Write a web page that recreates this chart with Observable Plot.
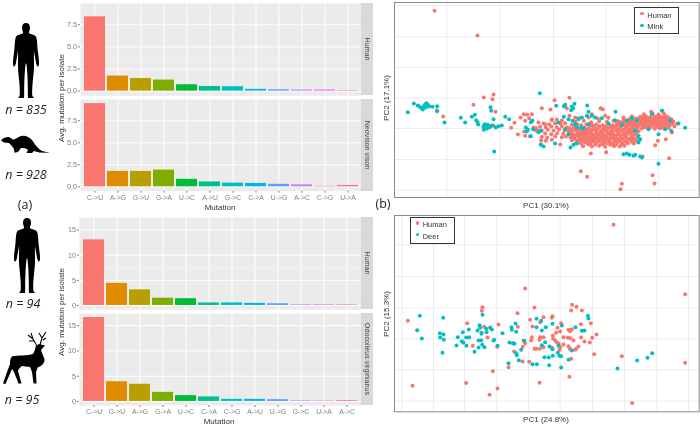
<!DOCTYPE html>
<html><head><meta charset="utf-8">
<script src="https://cdn.jsdelivr.net/npm/d3@7"></script>
<script src="https://cdn.jsdelivr.net/npm/@observablehq/plot@0.6"></script>
<style>
html,body{margin:0;padding:0;background:#fff}
#c{position:relative;width:700px;height:426px;overflow:hidden;filter:blur(.4px);font-family:"Liberation Sans",sans-serif}
#c svg{position:absolute;overflow:visible}
.t{position:absolute;white-space:nowrap;transform:translate(-50%,-50%)}
.n{font:italic 12.5px "Open Sans",sans-serif;color:#222}
.p{font:12.5px "Open Sans",sans-serif;color:#222}
.ax{font-size:8px;color:#333}
.strip{position:absolute;background:#d9d9d9}
.strip span{position:absolute;left:50%;top:50%;transform:translate(-50%,-50%) rotate(90deg);white-space:nowrap;font-size:7.2px;color:#444}
.leg{position:absolute;width:43px;height:25px;background:#fff;border:1.2px solid #333;font-size:7.5px;color:#333;box-sizing:content-box}
.leg div{position:absolute;left:12px}
.leg i{position:absolute;left:5px;width:3.4px;height:3.4px;border-radius:50%}
</style></head><body><div id="c"></div>
<script>
const hue12 = ["#F8766D","#DE8C00","#B79F00","#7CAE00","#00BA38","#00C08B","#00BFC4","#00B4F0","#619CFF","#C77CFF","#F564E3","#FF64B0"];
const mutationsMink = ["C->U","A->G","G->U","G->A","U->C","A->U","G->C","C->A","U->G","A->C","C->G","U->A"];
const humanMink = [8.4,1.7,1.42,1.25,0.72,0.52,0.5,0.2,0.15,0.12,0.12,0.05];
const neovison = [9.45,1.75,1.75,1.9,0.85,0.55,0.42,0.38,0.28,0.22,0.05,0.15];
const mutationsDeer = ["C->U","G->U","A->G","G->A","U->C","C->A","C->G","A->U","U->G","G->C","U->A","A->C"];
const humanDeer = [13.05,4.4,3.1,1.45,1.35,0.5,0.5,0.42,0.35,0.12,0.12,0.1];
const odocoileus = [16.6,3.9,3.4,1.8,1.15,0.9,0.42,0.42,0.35,0.12,0.08,0.15];

// PCA scores, in arbitrary picture units
const pcMinkHumanSparse = [[178,30],[307,104],[326,290],[355,281],[352,295],[295,312],[361,333],[185,329],[204,347],[355,375],[408,381],[418,366],[436,350],[446,340],[456,342],[470,340],[462,352],[450,360],[428,401],[447,392],[450,405],[464,406],[475,380],[483,382],[487,390],[500,322],[538,298],[526,326],[583,291],[676,322],[683,325],[617,511],[636,528],[740,549],[736,565],[832,523],[838,548],[882,472],[802,467],[693,454],[647,458],[840,433],[848,420],[872,415],[890,395],[530,355],[575,322],[583,345],[600,350],[650,340],[690,345],[745,350],[510,370],[490,365]];
const pcMinkHumanCore = [
[600,362],[626,360],[648,364],[672,361],[695,363],[715,360],[742,364],[760,361],[782,363],[610,352],[640,350],[668,353],[700,351],
[590,372],[606,370],[618,373],[634,371],[652,374],[664,371],[682,373],[700,370],[712,373],[730,371],[748,374],[768,371],[790,373],
[582,382],[596,380],[610,383],[628,381],[640,384],[656,381],[668,383],[686,380],[698,383],[716,381],[732,384],[752,381],[770,383],[786,381],
[580,391],[592,393],[604,390],[622,392],[636,390],[646,393],[660,390],[676,392],[690,390],[706,393],[722,390],[738,392],[756,390],[772,393],[790,391],
[584,400],[600,402],[614,399],[626,401],[642,399],[654,402],[670,400],[684,401],[700,399],[714,402],[728,400],[744,401],[760,399],[778,401],
[586,409],[596,411],[610,408],[624,410],[638,408],[652,411],[664,409],[680,410],[694,408],[708,411],[722,409],[736,410],[750,408],[768,411],[786,409],
[590,418],[606,420],[620,417],[634,419],[648,417],[660,420],[676,418],[690,419],[702,417],[718,420],[730,418],[748,419],[764,417],[782,420],[792,418],
[602,427],[618,429],[632,426],[646,428],[662,426],[680,429],[696,427],[712,428],[726,426],[742,429],[758,427],[776,428],
[624,436],[650,437],[672,435],[690,438],[716,436],[734,437],[748,435],
[828,333],[862,330],[806,340],[832,338],[850,341],[866,339],
[770,347],[796,348],[812,346],[826,349],[840,347],[856,348],[872,346],
[745,354],[762,355],[780,353],[800,356],[815,354],[830,355],[844,353],[858,356],[876,354],[888,355],
[730,361],[748,362],[766,360],[784,363],[798,361],[810,362],[824,360],[838,363],[850,361],[864,362],[880,360],[894,362],
[725,368],[742,369],[760,367],[776,370],[792,368],[808,369],[820,367],[834,370],[846,368],[860,369],[874,367],[892,369],[906,368],
[735,375],[752,376],[770,374],[788,377],[804,375],[816,376],[830,374],[842,377],[856,375],[870,376],[884,374],[898,376],
[775,382],[800,383],[820,381],[838,384],[855,382],[868,383],[880,381],
[530,358],[545,356],[560,359],[505,368],[522,370],[540,367],[556,369],[570,367],
[495,378],[512,380],[528,377],[545,379],[560,377],[575,380],
[482,388],[500,390],[518,387],[535,389],[552,387],[568,390],
[510,398],[528,400],[546,397],[564,399],[500,408],[516,410],[540,407],[560,409],[572,407],
[498,418],[512,420],[530,417],[497,430],[555,431],
[644,376],[658,378],[673,377],[691,376],[706,378],[722,376],[738,378],[758,376],[777,378],
[588,387],[601,386],[616,387],[631,386],[650,387],[665,386],[681,387],[694,386],[710,387],[727,386],[745,387],[763,386],[780,387],
[590,396],[608,395],[620,396],[632,395],[648,396],[664,395],[680,396],[696,395],[712,396],[730,395],[750,396],[766,395],[784,396],
[591,405],[606,404],[620,405],[633,404],[646,405],[660,404],[676,405],[690,404],[707,405],[720,404],[736,405],[752,404],[770,405],
[598,414],[614,413],[630,414],[644,413],[657,414],[670,413],[686,414],[698,413],[714,414],[726,413],[742,414],[758,413],[775,414],
[612,423],[627,422],[640,423],[654,422],[670,423],[686,423],[704,422],[722,423],[736,422],[752,423],[770,423],
[640,431],[660,432],[684,431],[705,432],[722,432],[740,431],
[790,352],[805,351],[820,351],[836,352],[850,351],[866,351],[880,350],
[755,358],[775,358],[792,358],[806,358],[818,357],[832,358],[845,357],[870,358],
[738,365],[755,365],[772,365],[790,365],[803,365],[816,364],[830,365],[842,365],[856,365],[870,365],[886,365],
[745,372],[762,372],[780,372],[797,372],[812,372],[825,372],[838,372],[852,372],[866,372],[880,371],
[810,379],[825,379],[846,379],[860,379]];
const pcMinkHuman = pcMinkHumanSparse.concat(pcMinkHumanCore);
const pcMink = [[98,334],[116,308],[128,314],[134,318],[140,322],[143,326],[147,316],[150,310],[154,307],[158,312],[162,316],[152,320],[172,318],[186,316],[186,331],[208,365],
[257,351],[270,365],[290,348],[299,342],[303,358],[307,364],[309,371],[346,319],[348,330],[355,355],[357,452],[325,378],[327,372],[330,370],[333,376],[338,372],[341,380],[326,387],[335,383],[345,378],[350,374],[362,380],[370,376],[380,374],[390,348],[402,355],
[494,277],[543,315],[566,316],[570,312],[590,317],[598,309],[594,322],[588,328],[636,314],[640,333],[721,333],
[452,380],[458,386],[467,364],[472,360],[474,385],[467,406],[455,392],[490,394],[497,390],[505,437],[540,428],[497,432],
[566,348],[580,355],[592,360],[610,355],[600,370],[618,380],[625,383],[640,370],[660,350],[680,352],[700,368],[720,358],[740,372],[755,360],[770,352],[785,360],[790,405],[795,415],[790,425],[780,390],[745,460],[755,458],[763,462],[775,465],[780,462],[795,467],[800,470],[850,489],[930,381],[888,390],[870,385],[850,400],[820,385],[910,368],[586,440],[595,432],[605,428],[580,400],[570,385],[550,365],[635,345],[650,345],[830,340],[860,330],[885,360],[620,350],[605,380]];
const pcDeerHuman = [[715,43],[930,251],[930,457],[450,234],[98,331],[112,526],[771,578],[273,518],[343,553],[367,534],[353,482],[400,470],[493,517],[583,499],[740,437],[657,431],[664,372],[651,382],[644,396],[647,338],[620,300],[604,289],[591,283],[588,300],[617,341],[478,291],[427,308],[465,328],[322,290],[320,301],[276,338],[370,342],[327,349],[428,349],[472,348],[505,320],[532,317],[530,322],[495,335],[547,352],[558,338],[580,358],[590,356],[585,362],[578,382],[585,383],[565,380],[555,363],[543,367],[533,375],[534,385],[540,390],[545,395],[550,400],[565,402],[580,407],[584,415],[610,408],[603,415],[600,418],[628,393],[618,381],[595,390],[505,380],[495,380],[493,388],[470,380],[468,390],[478,415],[483,415],[494,415],[505,410],[445,391],[450,398],[415,398],[417,423],[442,453],[462,454],[443,409],[337,381],[366,409],[293,406],[319,366],[555,410],[553,418],[588,445],[530,412]];
const pcDeer = [[134,316],[204,322],[126,359],[140,384],[194,368],[205,372],[195,381],[206,388],[202,427],[248,380],[244,405],[263,365],[260,392],[265,397],[273,381],[282,380],[274,406],[281,357],[307,360],[313,344],[315,352],[319,370],[322,313],[333,355],[334,365],[345,351],[350,357],[357,388],[355,390],[310,390],[318,390],[321,403],[328,410],[310,411],[298,424],[367,406],[382,368],[403,396],[409,350],[410,358],[421,339],[423,364],[413,398],[418,400],[438,418],[423,428],[425,434],[431,449],[400,458],[447,391],[484,325],[498,331],[484,350],[500,360],[512,350],[510,395],[500,404],[523,408],[532,416],[550,405],[548,427],[533,436],[508,440],[521,441],[553,436],[558,437],[522,464],[558,471],[472,461],[485,461],[580,448],[590,420],[601,350],[620,361],[628,360],[638,316],[640,324],[532,340],[560,345],[727,474],[786,450],[817,442],[831,428]];

const c = document.getElementById("c");
function text(s, x, y, cls, rot) {
  const d = document.createElement("div");
  d.className = "t " + (cls||"");
  d.textContent = s;
  d.style.left = x+"px"; d.style.top = y+"px";
  if (rot) d.style.transform = "translate(-50%,-50%) rotate("+rot+"deg)";
  c.appendChild(d);
}
function strip(s, x, y, w, h) {
  const d = document.createElement("div");
  d.className = "strip";
  d.style.cssText = `left:${x}px;top:${y}px;width:${w}px;height:${h}px`;
  d.innerHTML = "<span></span>"; d.firstChild.textContent = s;
  c.appendChild(d);
}
function place(svg, x, y) { svg.style.left = x+"px"; svg.style.top = y+"px"; c.appendChild(svg); }

function barPanel({cats, vals, left, top, fw, fh, domain, major, minor, showX}) {
  const rows = cats.map((m,i)=>({m, v:vals[i], col:hue12[i]}));
  const mb = showX ? 14 : 0;
  const ml = 22;
  const svg = Plot.plot({
    width: fw+ml+1, height: fh+mb+1,
    marginLeft: ml, marginRight: 1, marginTop: 1, marginBottom: mb,
    style: {background:"transparent", fontFamily:"'Liberation Sans',sans-serif"},
    x: {type:"band", domain:cats, paddingInner:0.1, paddingOuter:0.15, label:null, axis:null},
    y: {domain, label:null, axis:null},
    marks: [
      Plot.frame({fill:"#ebebeb", stroke:null}),
      Plot.ruleY(minor, {stroke:"#f5f5f5", strokeWidth:.6}),
      Plot.ruleY(major, {stroke:"#fff", strokeWidth:1}),
      Plot.ruleX(cats, {stroke:"#fff", strokeWidth:1}),
      Plot.barY(rows, {x:"m", y:"v", fill:"col"}),
      Plot.axisY({ticks:major, tickSize:2, tickPadding:1.5, fontSize:7.3, color:"#7f7f7f", stroke:"#7f7f7f", tickFormat:v=>major[1]%1?v.toFixed(1):v, label:null}),
      showX ? Plot.axisX({tickSize:2, tickPadding:1.5, fontSize:6.8, color:"#7f7f7f", stroke:"#7f7f7f", label:null}) : null
    ]
  });
  place(svg, left-ml, top-1);
}
const maj1=[0,2.5,5,7.5], min1=[1.25,3.75,6.25,8.75], maj2=[0,5,10,15], min2=[2.5,7.5,12.5];
barPanel({cats:mutationsMink, vals:humanMink, left:80, top:2.7, fw:281, fh:92.3, domain:[-0.53,9.9], major:maj1, minor:min1});
barPanel({cats:mutationsMink, vals:neovison, left:80, top:99, fw:281, fh:91.7, domain:[-0.5,9.92], major:maj1, minor:min1, showX:true});
barPanel({cats:mutationsDeer, vals:humanDeer, left:78.5, top:216.7, fw:282.4, fh:92.3, domain:[-0.86,17.5], major:maj2, minor:min2});
barPanel({cats:mutationsDeer, vals:odocoileus, left:78.5, top:313, fw:282.4, fh:92, domain:[-0.8,17.4], major:maj2, minor:min2, showX:true});
strip("Human",361,2.7,12,92.3);
strip("Neovison vison",361,99,12,91.7);
strip("Human",361,216.7,12,92.3);
strip("Odocoileus virginianus",361,313,12,92);
text("Avg. mutation per isolate",61,98,"ax",-90);
text("Avg. mutation per isolate",61,312,"ax",-90);
text("Mutation",220,206.5,"ax");
text("Mutation",219,421,"ax");

function pca({left, top, w, h, xd, yd, gx, gy, a, b}) {
  const svg = Plot.plot({
    width:w+2, height:h+2, margin:1,
    style:{background:"#fff"},
    x:{domain:xd, axis:null}, y:{domain:yd, axis:null},
    marks:[
      Plot.ruleX(gx,{stroke:"#ececec",strokeWidth:1}),
      Plot.ruleY(gy,{stroke:"#ececec",strokeWidth:1}),
      Plot.dot(a,{x:d=>d[0],y:d=>d[1],r:2,fill:"#F8766D"}),
      Plot.dot(b,{x:d=>d[0],y:d=>d[1],r:2,fill:"#00BFC4"}),
      Plot.frame({stroke:"#8a8a8a",strokeWidth:1})
    ]
  });
  place(svg,left-1,top-1);
}
pca({left:394.3,top:1.7,w:304.7,h:195,xd:[58,972],yd:[590,5],
  gx:[215,375,535,692,850],gy:[15,108,200,292,383,476,568],a:pcMinkHuman,b:pcMink});
pca({left:394.3,top:215,w:304.7,h:196.3,xd:[58,972],yd:[604,15],
  gx:[80,175,268,365,460,555,652,748,845,940],gy:[103,198,292,385,478,572],a:pcDeerHuman,b:pcDeer});
text("PC1 (30.1%)",546,205,"ax");
text("PC2 (17.1%)",386,98,"ax",-90);
text("PC1 (24.8%)",546,419,"ax");
text("PC2 (15.3%)",386,314,"ax",-90);
function legend(x,y,a,b){
  const d=document.createElement("div");d.className="leg";d.style.left=x+"px";d.style.top=y+"px";
  d.innerHTML=`<i style="top:3.7px;background:#F8766D"></i><div style="top:2.5px">${a}</div><i style="top:15.4px;background:#00BFC4"></i><div style="top:14px">${b}</div>`;
  c.appendChild(d);
}
legend(634.3,7.3,"Human","Mink");
legend(409.7,216.7,"Human","Deer");

text("n = 835",26,109,"n");
text("n = 928",26,174,"n");
text("n = 94",23,303,"n");
text("n = 95",22,399,"n");
text("(a)",25,204,"p");
text("(b)",383,203,"p");

const NS="http://www.w3.org/2000/svg";
const person="M13 0C15.6 0 17 2 17 4.8C17 7 16 8.5 15.8 10C18 11.5 22 11.5 23.2 14C24.5 18 24.2 24 24.8 28C25.4 33 26.2 37 26 41C26 43 25 44.5 24.2 43L23.2 41C22.6 37 21.6 32 21 28C20.8 33 21 36 21 40C21.2 46 20.4 52 19.8 58C19.2 64 19 70 19.4 73L21 75L15 75L14.8 72C15 66 14.6 58 14.4 52L13.6 42L13 40L12.4 42L11.6 52C11.4 58 11 66 11.2 72L11 75L5 75L6.6 73C7 70 6.8 64 6.2 58C5.6 52 4.8 46 5 40C5 36 5.2 33 5 28C4.4 32 3.4 37 2.8 41L1.8 43C1 44.5 0 43 0 41C-.2 37 .6 33 1.2 28C1.8 24 1.5 18 2.8 14C4 11.5 8 11.5 10.2 10C10 8.5 9 7 9 4.8C9 2 10.4 0 13 0Z";
const mink="M1 140.5C3 138 6 136.5 9 137C11 138 12 140 14 139.5C18 137.5 20 135.5 24 135.7C28 136 32 139 34 143C36 146 39 149.5 42 151L50 152.8L39 152.5L34 151L32 153L26.5 153L28 150C26 148 23 148 21 148L18 152L14.5 152.8L14 149C12 146 10 144 9 143L4 142.5Z";
const deerBody="M12 356.5C18 355 28 356 33 354C35 351 35 348 36 346L39 344L45 345.5L41 350C42 354 45 358 44.5 361C43 365 40 367 38 367L36 372L36.5 383.5L33.5 383.5L32 372L30 367C27 367 24 366 22 366C20 368 18 369 18 371L21.5 383.5L18.5 383.5L14 372L12 369L5.5 384L3 383.5L7 372L10 364C10 360 10.5 358 12 356.5Z";
const antlers="M37 346L33 339L28 335M33 339L31 333M34 341L29 341M40 345L42 338L46 332M42 338L39 333M43 340L46 338";
const icons=document.createElementNS(NS,"svg");
icons.setAttribute("width",60);icons.setAttribute("height",426);icons.style.left="0";icons.style.top="0";
icons.innerHTML=`<path transform="translate(13,23)" d="${person}" fill="#000"/><path transform="translate(14,218)" d="${person}" fill="#000"/><path d="${mink}" fill="#000"/><path d="${deerBody}" fill="#000"/><path d="${antlers}" fill="none" stroke="#000" stroke-width="1.1"/>`;
c.appendChild(icons);
</script></body></html>
